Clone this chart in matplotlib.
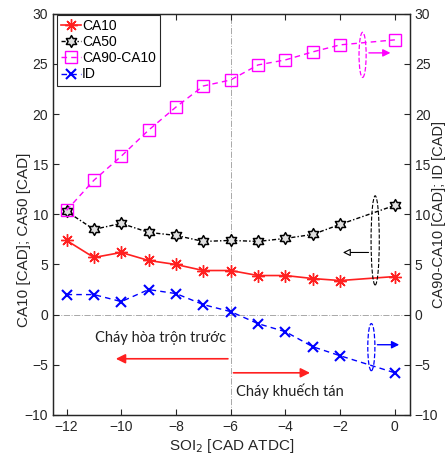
import numpy as np
import matplotlib
matplotlib.use('Agg')
import matplotlib.pyplot as plt
from matplotlib.path import Path
from matplotlib.patches import Ellipse

plt.rcParams['font.family'] = ['Liberation Sans', 'DejaVu Sans']

# SOI2 sweep (no run at -1 CAD)
soi2 = [-12, -11, -10, -9, -8, -7, -6, -5, -4, -3, -2, 0]
ca10 = [7.4, 5.7, 6.2, 5.4, 5.0, 4.4, 4.4, 3.9, 3.9, 3.6, 3.4, 3.8]
ca50 = [10.3, 8.5, 9.1, 8.2, 7.9, 7.3, 7.4, 7.3, 7.6, 8.0, 9.0, 10.9]
ca90_ca10 = [10.4, 13.4, 15.8, 18.4, 20.7, 22.8, 23.4, 24.9, 25.4, 26.2, 26.9, 27.4]
ign_delay = [2.0, 2.0, 1.3, 2.5, 2.1, 1.0, 0.3, -0.9, -1.7, -3.2, -4.1, -5.8]

xticks = [-12, -10, -8, -6, -4, -2, 0]
yticks = [-10, -5, 0, 5, 10, 15, 20, 25, 30]

# six-pointed star marker
ang = np.pi / 2 + np.arange(12) * np.pi / 6
rad = np.where(np.arange(12) % 2 == 0, 1.0, 1 / np.sqrt(3))
verts = np.column_stack([rad * np.cos(ang), rad * np.sin(ang)])
verts = np.vstack([verts, verts[0]])
hexagram = Path(verts, [Path.MOVETO] + [Path.LINETO] * 11 + [Path.CLOSEPOLY])

dark = '#262626'
fig = plt.figure(figsize=(4.48, 4.59), dpi=100)
ax = fig.add_axes([0.118, 0.096, 0.797, 0.874])
ax2 = ax.twinx()

ax.axvline(-6, color='#a8a8a8', ls='-.', lw=0.7, zorder=0)
ax.axhline(0, color='#a8a8a8', ls='-.', lw=0.7, zorder=0)

l1, = ax.plot(soi2, ca10, color='#ff2020', ls='-', lw=1.2,
              marker=(8, 2, 0), ms=9, mew=1.0, label='CA10')
l2, = ax.plot(soi2, ca50, color='black', lw=1.0, dashes=(3, 1.5, 1, 1.5),
              marker=hexagram, ms=8.5, mfc='#e0e0e0', mew=1.1, label='CA50')
l3, = ax2.plot(soi2, ca90_ca10, color='#ff00ff', lw=1.0, dashes=(4, 3),
               marker='s', ms=8, mfc='none', mew=1.0, label='CA90-CA10')
l4, = ax2.plot(soi2, ign_delay, color='#0000ff', lw=1.0, dashes=(4, 3),
               marker='x', ms=7, mew=1.5, label='ID')

for a in (ax, ax2):
    a.set_xlim(-12.5, 0.55)
    a.set_ylim(-10, 30)
    a.set_yticks(yticks)
    a.tick_params(direction='in', length=4, width=0.8, colors=dark,
                  labelsize=10, top=True)
    for s in a.spines.values():
        s.set_color(dark)
        s.set_linewidth(0.9)
ax.set_xticks(xticks)

ax.set_xlabel('SOI$_2$ [CAD ATDC]', fontsize=11, color=dark, labelpad=2)
ax.set_ylabel('CA10 [CAD]; CA50 [CAD]', fontsize=11, color=dark)
ax.yaxis.set_label_coords(-0.062, 0.436)
ax2.set_ylabel('CA90-CA10 [CAD]; ID [CAD]', fontsize=10.5, color=dark)
ax2.yaxis.set_label_coords(1.062, 0.5)

# regime annotations
txt_font = ['Lato', 'DejaVu Sans']
ax2.text(-6.15, -2.3, 'Cháy hòa trộn trước', ha='right', va='center',
         fontsize=10.5, family=txt_font, color='#222222')
ax2.text(-5.8, -7.6, 'Cháy khuếch tán', ha='left', va='center',
         fontsize=10.5, family=txt_font, color='#222222')
ax2.annotate('', xy=(-10.3, -4.4), xytext=(-6, -4.4),
             arrowprops=dict(arrowstyle='-|>', color='#ff2020', lw=1.2,
                             mutation_scale=14))
ax2.annotate('', xy=(-3.0, -5.8), xytext=(-6, -5.8),
             arrowprops=dict(arrowstyle='-|>', color='#ff2020', lw=1.2,
                             mutation_scale=14))

# axis markers: ellipse + arrow toward owning axis
ax2.add_patch(Ellipse((-1.18, 25.9), 0.26, 4.5, fill=False,
                      ec='#ff00ff', ls='--', lw=0.9))
ax2.annotate('', xy=(-0.06, 26.1), xytext=(-1.05, 26.1),
             arrowprops=dict(arrowstyle='-|>', color='#ff00ff', lw=1.0,
                             mutation_scale=11))
ax2.add_patch(Ellipse((-0.72, 7.4), 0.3, 8.9, fill=False,
                      ec='black', ls='--', lw=0.8))
ax2.annotate('', xy=(-2.0, 6.2), xytext=(-0.86, 6.2),
             arrowprops=dict(arrowstyle='-|>', color='black', lw=0.8,
                             mutation_scale=11, fc='white'))
ax2.add_patch(Ellipse((-0.86, -3.24), 0.26, 4.7, fill=False,
                      ec='#0000ff', ls='--', lw=0.9))
ax2.annotate('', xy=(0.26, -3.0), xytext=(-0.74, -3.0),
             arrowprops=dict(arrowstyle='-|>', color='#0000ff', lw=1.0,
                             mutation_scale=11))

leg = ax2.legend(handles=[l1, l2, l3, l4], loc='upper left',
                 bbox_to_anchor=(0.012, 0.997), borderaxespad=0,
                 fontsize=10, handlelength=1.4, handletextpad=0.1,
                 labelspacing=0.15, borderpad=0.3, fancybox=False,
                 framealpha=1, edgecolor=dark)
leg.get_frame().set_linewidth(0.8)

fig.savefig('out.png', dpi=100)
